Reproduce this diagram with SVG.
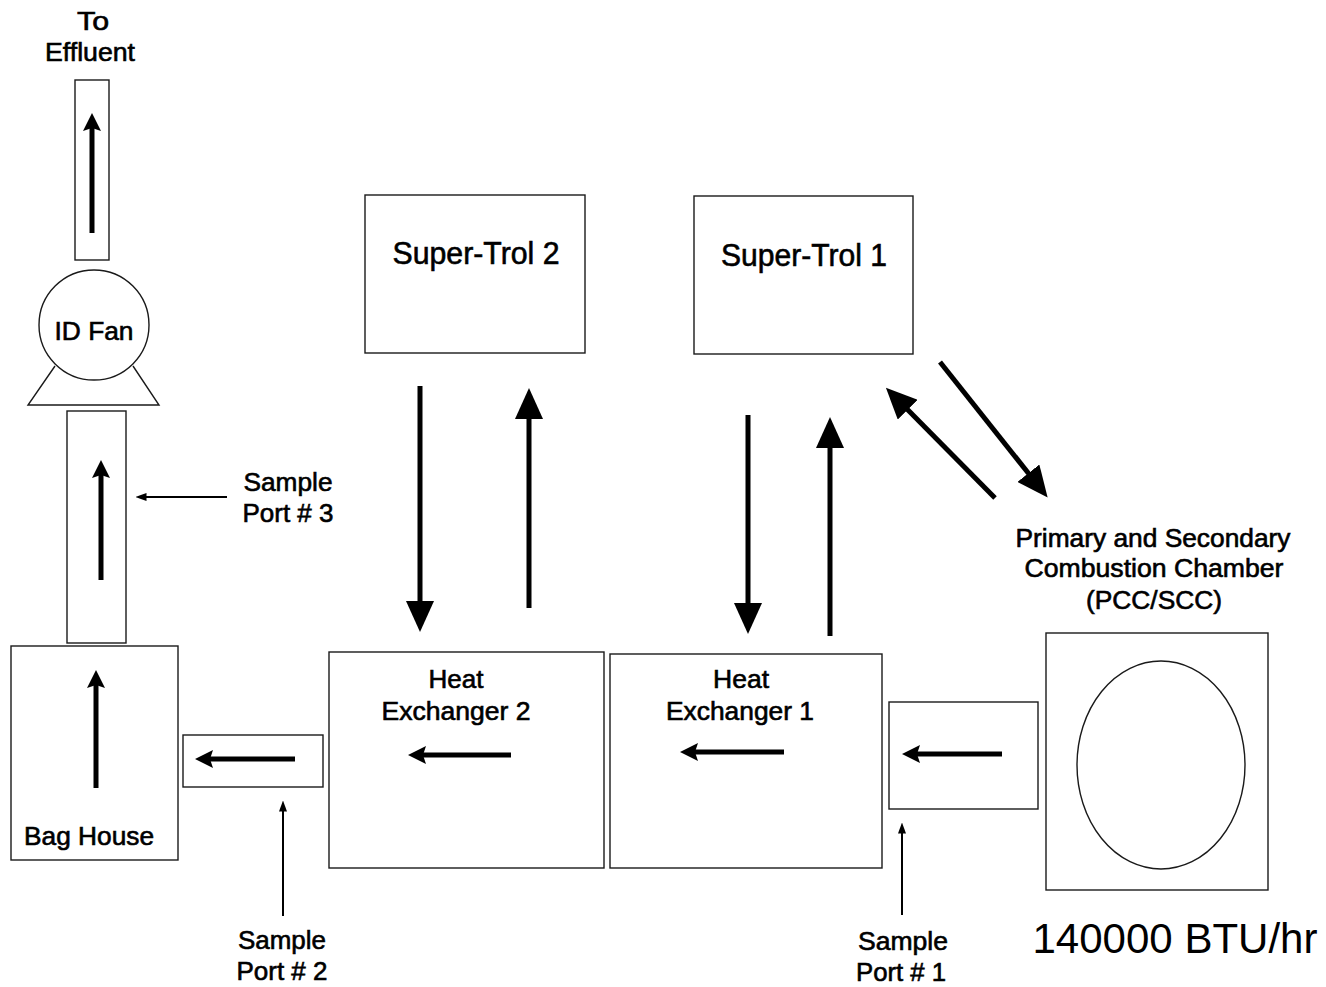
<svg xmlns="http://www.w3.org/2000/svg" width="1326" height="987" viewBox="0 0 1326 987">
<style>
.box{fill:#fff;stroke:#1a1a1a;stroke-width:1.4}
.t{font-family:"Liberation Sans",Arial,sans-serif;font-size:25px;fill:#000;stroke:#000;stroke-width:0.6;text-anchor:middle}
.big{stroke:#000;stroke-width:5;fill:none}
.med{stroke:#000;stroke-width:5;fill:none}
.sm{stroke:#000;stroke-width:2;fill:none}
</style>
<defs>
<marker id="hb" markerUnits="userSpaceOnUse" viewBox="0 0 31 28" markerWidth="31" markerHeight="28" refX="1" refY="14" orient="auto"><path d="M0,0 L31,14 L0,28 Z" fill="#000"/></marker>
<marker id="hm" markerUnits="userSpaceOnUse" viewBox="0 0 18 18" markerWidth="18" markerHeight="18" refX="3" refY="9" orient="auto"><path d="M0,0 L18,9 L0,18 L3,9 Z" fill="#000"/></marker>
<marker id="hs" markerUnits="userSpaceOnUse" viewBox="0 0 11 8" markerWidth="11" markerHeight="8" refX="0.5" refY="4" orient="auto"><path d="M0,0 L11,4 L0,8 Z" fill="#000"/></marker>
</defs>
<rect width="1326" height="987" fill="#fff"/>

<g id="effluent-label">
<text class="t" x="93" y="30" textLength="32" lengthAdjust="spacingAndGlyphs">To</text>
<text class="t" x="90" y="61" textLength="90" lengthAdjust="spacingAndGlyphs">Effluent</text>
</g>
<g id="stack"><rect class="box" x="75" y="80" width="34" height="180"/></g>
<g id="id-fan">
<path class="box" d="M55,366 L28,405 L159,405 L133,366"/>
<circle class="box" cx="94" cy="325" r="55"/>
<text class="t" x="94" y="340" textLength="79" lengthAdjust="spacingAndGlyphs">ID Fan</text>
</g>
<g id="fan-duct"><rect class="box" x="67" y="411" width="59" height="232"/></g>
<g id="bag-house">
<rect class="box" x="11" y="646" width="167" height="214"/>
<text class="t" x="89" y="845" textLength="130" lengthAdjust="spacingAndGlyphs">Bag House</text>
</g>
<g id="sample-port-3">
<text class="t" x="288" y="491" textLength="89" lengthAdjust="spacingAndGlyphs">Sample</text>
<text class="t" x="288" y="522" textLength="91" lengthAdjust="spacingAndGlyphs">Port # 3</text>
</g>
<g id="duct-2"><rect class="box" x="183" y="735" width="140" height="52"/></g>
<g id="sample-port-2">
<text class="t" x="282" y="949" textLength="88" lengthAdjust="spacingAndGlyphs">Sample</text>
<text class="t" x="282" y="980" textLength="91" lengthAdjust="spacingAndGlyphs">Port # 2</text>
</g>
<g id="heat-exchanger-2">
<rect class="box" x="329" y="652" width="275" height="216"/>
<text class="t" x="456" y="688" textLength="55" lengthAdjust="spacingAndGlyphs">Heat</text>
<text class="t" x="456" y="720" textLength="149" lengthAdjust="spacingAndGlyphs">Exchanger 2</text>
</g>
<g id="heat-exchanger-1">
<rect class="box" x="610" y="654" width="272" height="214"/>
<text class="t" x="741" y="688" textLength="56" lengthAdjust="spacingAndGlyphs">Heat</text>
<text class="t" x="740" y="720" textLength="148" lengthAdjust="spacingAndGlyphs">Exchanger 1</text>
</g>
<g id="duct-1"><rect class="box" x="889" y="702" width="149" height="107"/></g>
<g id="sample-port-1">
<text class="t" x="903" y="950" textLength="90" lengthAdjust="spacingAndGlyphs">Sample</text>
<text class="t" x="901" y="981" textLength="90" lengthAdjust="spacingAndGlyphs">Port # 1</text>
</g>
<g id="super-trol-2">
<rect class="box" x="365" y="195" width="220" height="158"/>
<text class="t" x="476" y="264" style="font-size:31px" textLength="167" lengthAdjust="spacingAndGlyphs">Super-Trol 2</text>
</g>
<g id="super-trol-1">
<rect class="box" x="694" y="196" width="219" height="158"/>
<text class="t" x="804" y="266" style="font-size:31px" textLength="166" lengthAdjust="spacingAndGlyphs">Super-Trol 1</text>
</g>
<g id="pcc-scc">
<text class="t" x="1153" y="547" textLength="275" lengthAdjust="spacingAndGlyphs">Primary and Secondary</text>
<text class="t" x="1154" y="577" textLength="259" lengthAdjust="spacingAndGlyphs">Combustion Chamber</text>
<text class="t" x="1154" y="609" textLength="136" lengthAdjust="spacingAndGlyphs">(PCC/SCC)</text>
<rect class="box" x="1046" y="633" width="222" height="257"/>
<ellipse class="box" cx="1161" cy="765" rx="84" ry="104"/>
<text class="t" x="1175" y="953" style="font-size:42px;stroke:none" textLength="285" lengthAdjust="spacingAndGlyphs">140000 BTU/hr</text>
</g>

<g id="connectors">
<line class="med" x1="92" y1="233" x2="92" y2="128" marker-end="url(#hm)"/>
<line class="med" x1="101" y1="580" x2="101" y2="475" marker-end="url(#hm)"/>
<line class="med" x1="96" y1="788" x2="96" y2="685" marker-end="url(#hm)"/>
<line class="med" x1="295" y1="759" x2="210" y2="759" marker-end="url(#hm)"/>
<line class="med" x1="511" y1="755" x2="423" y2="755" marker-end="url(#hm)"/>
<line class="med" x1="784" y1="752" x2="695" y2="752" marker-end="url(#hm)"/>
<line class="med" x1="1002" y1="754" x2="917" y2="754" marker-end="url(#hm)"/>
<line class="sm" x1="227" y1="497" x2="146" y2="497" marker-end="url(#hs)"/>
<line class="sm" x1="283" y1="916" x2="283" y2="811" marker-end="url(#hs)"/>
<line class="sm" x1="902" y1="915" x2="902" y2="833" marker-end="url(#hs)"/>
<line class="big" x1="420" y1="386" x2="420" y2="602" marker-end="url(#hb)"/>
<line class="big" x1="529" y1="608" x2="529" y2="418" marker-end="url(#hb)"/>
<line class="big" x1="748" y1="415" x2="748" y2="604" marker-end="url(#hb)"/>
<line class="big" x1="830" y1="636" x2="830" y2="447" marker-end="url(#hb)"/>
<line class="big" x1="995" y1="498" x2="907" y2="409" marker-end="url(#hb)"/>
<line class="big" x1="940" y1="362" x2="1029" y2="474" marker-end="url(#hb)"/>
</g>
</svg>
